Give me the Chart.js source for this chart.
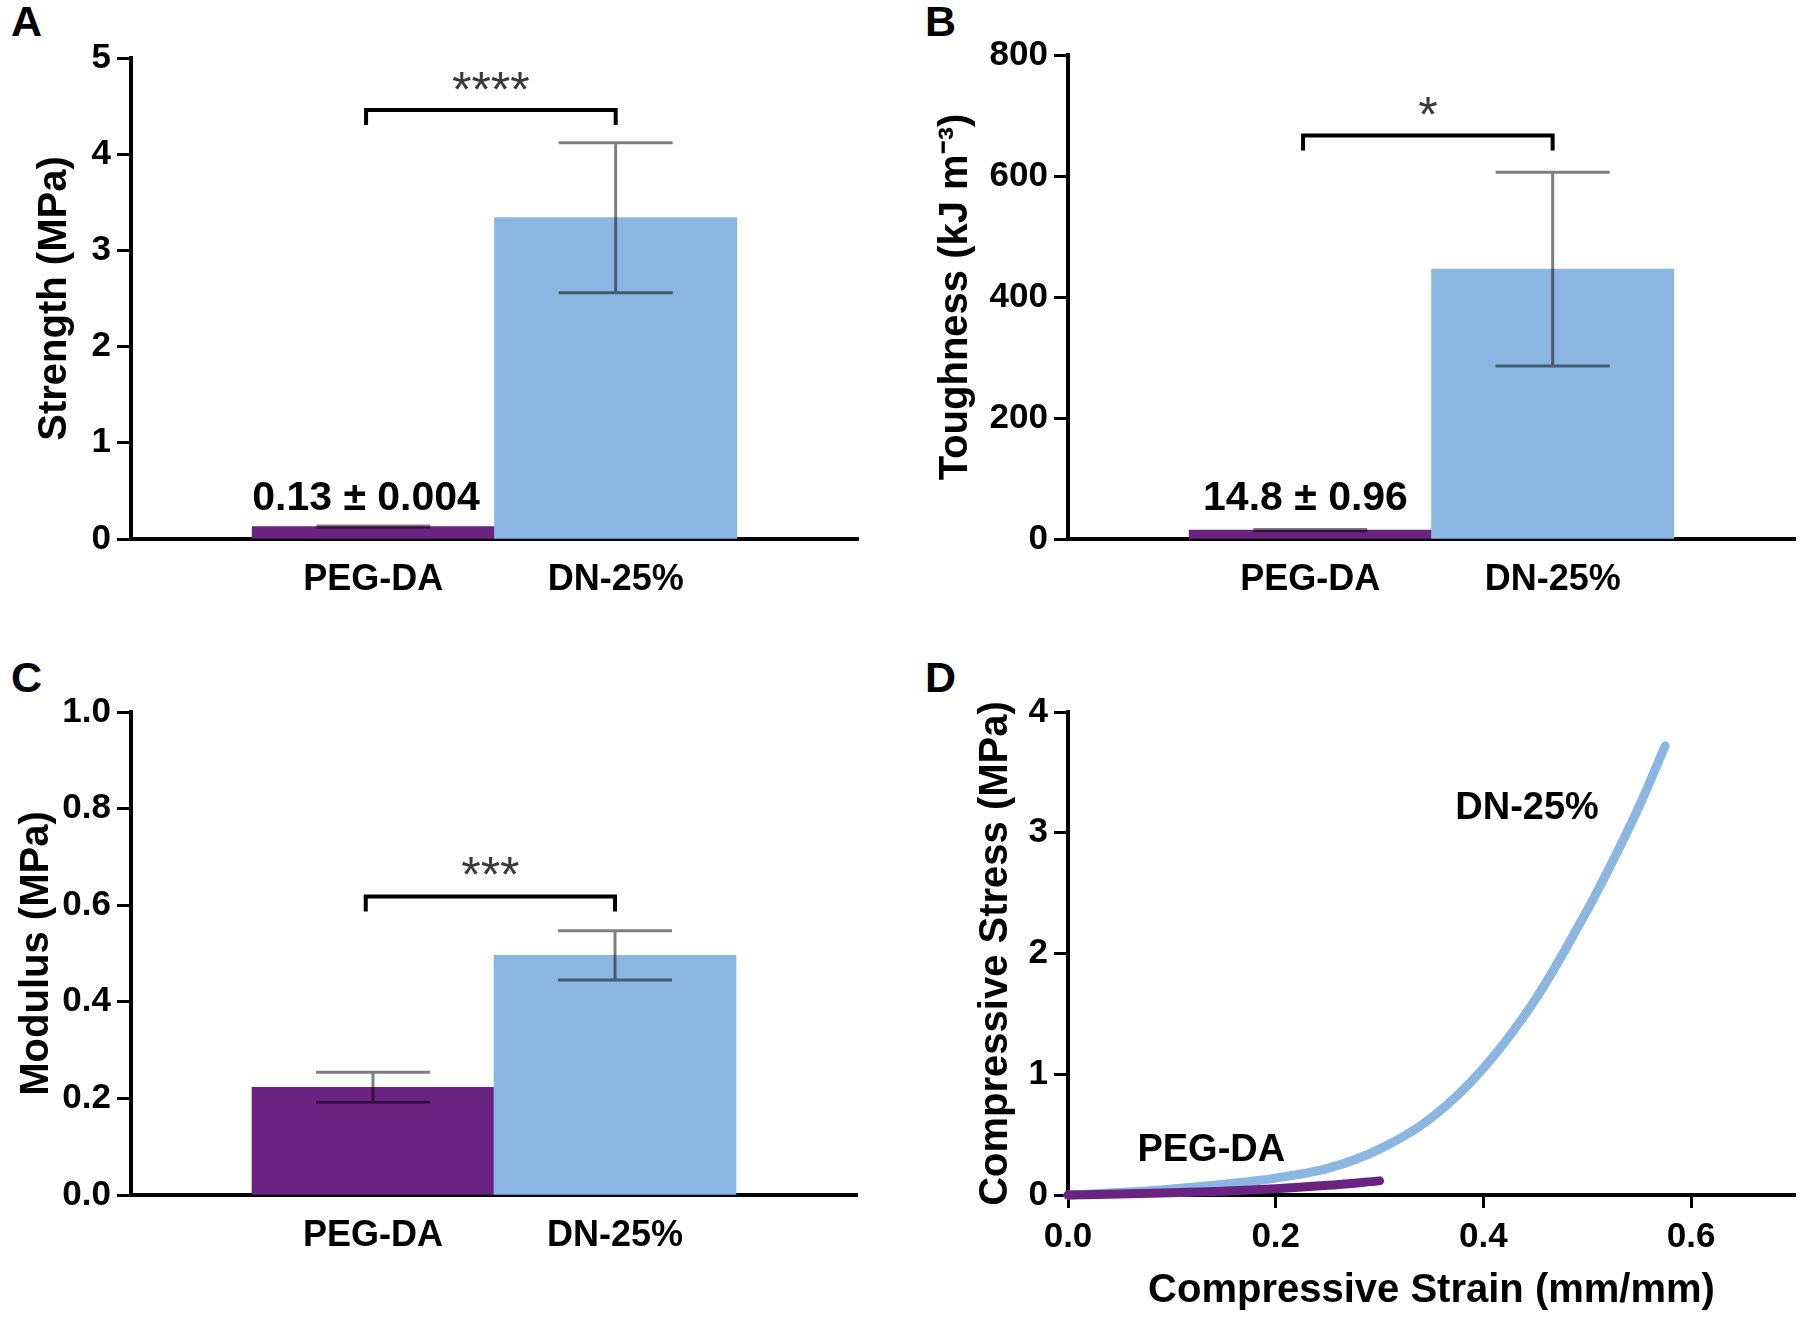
<!DOCTYPE html>
<html>
<head>
<meta charset="utf-8">
<script src="https://cdn.jsdelivr.net/npm/chart.js@4.4.0/dist/chart.umd.min.js"></script>
<style>
  body { margin: 0; background: #fff; width: 1800px; height: 1323px; position: relative; overflow: hidden; }
  .panel { position: absolute; }
  .tag { position: absolute; font: bold 43px/1 "Liberation Sans", Arial, sans-serif; color: #000; }
</style>
</head>
<body>
<div class="tag" style="left:11px;top:0">A</div>
<div class="tag" style="left:925px;top:0">B</div>
<div class="tag" style="left:11px;top:656px">C</div>
<div class="tag" style="left:925px;top:656px">D</div>

<div class="panel" style="left:0;top:0;width:900px;height:650px"><canvas id="chart-a"></canvas></div>
<div class="panel" style="left:900px;top:0;width:900px;height:650px"><canvas id="chart-b"></canvas></div>
<div class="panel" style="left:0;top:650px;width:900px;height:673px"><canvas id="chart-c"></canvas></div>
<div class="panel" style="left:900px;top:650px;width:900px;height:673px"><canvas id="chart-d"></canvas></div>

<script>
// datos
const categories = ['PEG-DA', 'DN-25%'];

const strengthMean = [0.13, 3.34];
const strengthErr = [0.004, 0.78];
const strengthTicks = [0, 1, 2, 3, 4, 5];

const toughnessMean = [14.8, 446];
const toughnessErr = [0.96, 160];
const toughnessTicks = [0, 200, 400, 600, 800];

const modulusMean = [0.223, 0.496];
const modulusErr = [0.031, 0.051];
const modulusTicks = [0, 0.2, 0.4, 0.6, 0.8, 1.0];

const stressTicks = [0, 1, 2, 3, 4];
const strainTicks = [0, 0.2, 0.4, 0.6];
const pegStrain = [0, 0.05, 0.10, 0.15, 0.20, 0.25, 0.30];
const pegStress = [0, 0.008, 0.018, 0.032, 0.052, 0.08, 0.117];
const dnStrain = [0, 0.05, 0.10, 0.15, 0.20, 0.25, 0.30, 0.35, 0.40, 0.45, 0.50, 0.53, 0.55, 0.575];
const dnStress = [0, 0.02, 0.05, 0.09, 0.14, 0.22, 0.38, 0.64, 1.05, 1.62, 2.36, 2.86, 3.22, 3.72];

const FONT = '"Liberation Sans", Arial, sans-serif';
const PURPLE = '#6a2381';
const BLUE = '#8ab6e1';

Chart.defaults.font.family = FONT;
Chart.defaults.color = '#000';

// barras de error, corchetes y textos sueltos
const extras = {
    id: 'extras',
    afterDatasetsDraw(chart, args, opts) {
        const { ctx, scales: { x, y } } = chart;
        ctx.save();

        (opts.errors || []).forEach(e => {
            const px = x.getPixelForValue(e.x);
            const top = y.getPixelForValue(e.mean + e.err);
            const bot = y.getPixelForValue(e.mean - e.err);
            ctx.strokeStyle = 'rgba(0,0,0,0.5)';
            ctx.lineWidth = 3;
            ctx.beginPath();
            ctx.moveTo(px, top); ctx.lineTo(px, bot);
            ctx.moveTo(px - 57, top); ctx.lineTo(px + 57, top);
            ctx.moveTo(px - 57, bot); ctx.lineTo(px + 57, bot);
            ctx.stroke();
        });

        const br = opts.bracket;
        if (br) {
            const x1 = x.getPixelForValue(br.from);
            const x2 = x.getPixelForValue(br.to);
            const yb = y.getPixelForValue(br.y);
            ctx.strokeStyle = '#000';
            ctx.lineWidth = 4;
            ctx.lineCap = 'butt';
            ctx.beginPath();
            ctx.moveTo(x1, yb + 15); ctx.lineTo(x1, yb); ctx.lineTo(x2, yb); ctx.lineTo(x2, yb + 15);
            ctx.stroke();
            ctx.fillStyle = '#3a3a3a';
            ctx.font = '50px ' + FONT;
            ctx.textAlign = 'center';
            ctx.textBaseline = 'alphabetic';
            ctx.fillText(br.text, (x1 + x2) / 2, y.getPixelForValue(br.textY) + 29);
        }

        (opts.notes || []).forEach(n => {
            ctx.fillStyle = '#000';
            ctx.font = 'bold ' + n.size + 'px ' + FONT;
            ctx.textAlign = 'center';
            ctx.textBaseline = 'middle';
            ctx.fillText(n.text, x.getPixelForValue(n.x), y.getPixelForValue(n.y));
        });
        ctx.restore();
    }
};

function ejeY(ticks, fmt, title, width, titlePad) {
    return {
        min: ticks[0],
        max: ticks[ticks.length - 1],
        afterBuildTicks: ax => { ax.ticks = ticks.map(v => ({ value: v })); },
        afterFit: ax => { ax.width = width; },
        ticks: { font: { size: 35, weight: 'bold' }, color: '#000', padding: 6, callback: v => fmt(v) },
        grid: { display: true, drawOnChartArea: false, drawTicks: true, tickLength: 14, tickWidth: 3, tickColor: '#000' },
        border: { display: true, color: '#000', width: 4 },
        title: { display: true, text: title, color: '#000', font: { size: 40, weight: 'bold' }, padding: { top: titlePad, bottom: 0 } }
    };
}

function crearBarras(id, means, errs, ticks, fmt, title, cfg) {
    const data = categories.map((c, i) => ({ x: i + 1, y: means[i] }));
    const errors = categories.map((c, i) => ({ x: i + 1, mean: means[i], err: errs[i] }));
    return new Chart(document.getElementById(id), {
        type: 'bar',
        data: {
            datasets: [{
                data,
                backgroundColor: [PURPLE, BLUE],
                borderWidth: 0,
                barPercentage: 1,
                categoryPercentage: 1
            }]
        },
        options: {
            responsive: true,
            maintainAspectRatio: false,
            animation: false,
            layout: { padding: cfg.padding },
            plugins: {
                legend: { display: false },
                tooltip: { enabled: false },
                extras: { errors, bracket: cfg.bracket, notes: cfg.notes }
            },
            scales: {
                x: {
                    type: 'linear',
                    min: 0,
                    max: categories.length + 1,
                    offset: false,
                    afterBuildTicks: ax => { ax.ticks = categories.map((c, i) => ({ value: i + 1 })); },
                    afterFit: ax => { ax.height = cfg.axisH; },
                    ticks: { font: { size: 36, weight: 'bold' }, color: '#000', padding: 19, maxRotation: 0, autoSkip: false, callback: (v, i) => categories[i] },
                    grid: { display: false, drawTicks: false },
                    border: { display: true, color: '#000', width: 4 }
                },
                y: ejeY(ticks, fmt, title, cfg.axisW, cfg.titlePad)
            }
        },
        plugins: [extras]
    });
}

crearBarras('chart-a', strengthMean, strengthErr, strengthTicks, v => String(v), 'Strength (MPa)', {
    padding: { top: 58, right: 42, left: 0, bottom: 0 }, axisW: 131, axisH: 111, titlePad: 31,
    bracket: { from: 0.97, to: 2.0, y: 4.46, text: '****', textY: 4.79 },
    notes: [{ text: '0.13 \u00b1 0.004', x: 0.97, y: 0.416, size: 41 }]
});

crearBarras('chart-b', toughnessMean, toughnessErr, toughnessTicks, v => String(v), 'Toughness (kJ m\u207b\u00b3)', {
    padding: { top: 55, right: 5, left: 0, bottom: 0 }, axisW: 168, axisH: 111, titlePad: 32,
    bracket: { from: 0.97, to: 2.0, y: 667, text: '*', textY: 720 },
    notes: [{ text: '14.8 \u00b1 0.96', x: 0.98, y: 66, size: 41 }]
});

crearBarras('chart-c', modulusMean, modulusErr, modulusTicks, v => v.toFixed(1), 'Modulus (MPa)', {
    padding: { top: 62, right: 43, left: 0, bottom: 0 }, axisW: 131, axisH: 128, titlePad: 13,
    bracket: { from: 0.97, to: 2.0, y: 0.618, text: '***', textY: 0.687 },
    notes: []
});

// panel D: curvas esfuerzo-deformacion
new Chart(document.getElementById('chart-d'), {
    type: 'line',
    data: {
        datasets: [
            {
                label: 'PEG-DA',
                data: pegStrain.map((s, i) => ({ x: s, y: pegStress[i] })),
                borderColor: PURPLE,
                borderWidth: 9,
                pointRadius: 0,
                cubicInterpolationMode: 'monotone',
                borderCapStyle: 'round',
                borderJoinStyle: 'round',
                clip: false
            },
            {
                label: 'DN-25%',
                data: dnStrain.map((s, i) => ({ x: s, y: dnStress[i] })),
                borderColor: BLUE,
                borderWidth: 9,
                pointRadius: 0,
                cubicInterpolationMode: 'monotone',
                borderCapStyle: 'round',
                borderJoinStyle: 'round',
                clip: false
            }
        ]
    },
    options: {
        responsive: true,
        maintainAspectRatio: false,
        animation: false,
        layout: { padding: { top: 62, right: 5, left: 0, bottom: 0 } },
        plugins: {
            legend: { display: false },
            tooltip: { enabled: false },
            extras: {
                notes: [
                    { text: 'DN-25%', x: 0.442, y: 3.20, size: 38 },
                    { text: 'PEG-DA', x: 0.138, y: 0.37, size: 38 }
                ]
            }
        },
        scales: {
            x: {
                type: 'linear',
                min: 0,
                max: 0.7,
                afterBuildTicks: ax => { ax.ticks = strainTicks.map(v => ({ value: v })); },
                afterFit: ax => { ax.height = 128; },
                ticks: { font: { size: 35, weight: 'bold' }, color: '#000', padding: 8, maxRotation: 0, callback: v => v.toFixed(1) },
                grid: { display: true, drawOnChartArea: false, drawTicks: true, tickLength: 13, tickWidth: 3, tickColor: '#000' },
                border: { display: true, color: '#000', width: 4 },
                title: { display: true, text: 'Compressive Strain (mm/mm)', color: '#000', font: { size: 40, weight: 'bold' }, padding: { top: 0, bottom: 8 } }
            },
            y: ejeY(stressTicks, v => String(v), 'Compressive Stress (MPa)', 168, 72)
        }
    },
    plugins: [extras]
});
</script>
</body>
</html>
